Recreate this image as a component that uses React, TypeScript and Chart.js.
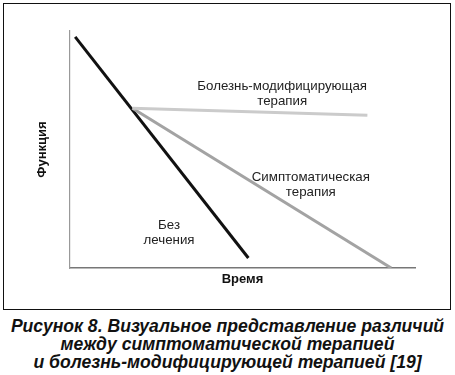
import React, { useEffect, useRef } from "react";
import { Chart, registerables } from "chart.js";

Chart.register(...registerables);

// Data (time on x, function on y, arbitrary 0–100 units)
const noTreatmentX = [1.5, 51.7];
const noTreatmentY = [97.5, 4.2];
const symptomaticX = [18.1, 93.1];
const symptomaticY = [67.4, 0];
const modifyingX = [18.1, 86.2];
const modifyingY = [67.4, 64.4];

const xAxisTitle = "Время";
const yAxisTitle = "Функция";

const annotations = [
  { lines: ["Болезнь-модифицирующая", "терапия"], x: 61.5, y: 76.8 },
  { lines: ["Симптоматическая", "терапия"], x: 69.8, y: 38.3 },
  { lines: ["Без", "лечения"], x: 28.7, y: 18.0 },
];

const captionLines = [
  "Рисунок 8. Визуальное представление различий",
  "между симптоматической терапией",
  "и болезнь-модифицирующей терапией [19]",
];

const toPoints = (xs: number[], ys: number[]) => xs.map((x, i) => ({ x, y: ys[i] }));

const annotationPlugin = {
  id: "annotationText",
  afterDatasetsDraw(chart: any) {
    const { ctx, scales } = chart;
    ctx.save();
    ctx.font = '13.3px "Liberation Sans", Arial, sans-serif';
    ctx.fillStyle = "#222";
    ctx.textAlign = "center";
    ctx.textBaseline = "middle";
    annotations.forEach((a) => {
      const px = scales.x.getPixelForValue(a.x);
      const py = scales.y.getPixelForValue(a.y);
      a.lines.forEach((line, i) => {
        ctx.fillText(line, px, py + i * 15);
      });
    });
    ctx.restore();
  },
};

export default function App() {
  const ref = useRef<HTMLCanvasElement | null>(null);

  useEffect(() => {
    if (!ref.current) return;
    const chart = new Chart(ref.current, {
      type: "line",
      data: {
        datasets: [
          {
            label: "Болезнь-модифицирующая терапия",
            data: toPoints(modifyingX, modifyingY),
            borderColor: "#cbcbcb",
            borderWidth: 3,
            pointRadius: 0,
          },
          {
            label: "Симптоматическая терапия",
            data: toPoints(symptomaticX, symptomaticY),
            borderColor: "#a3a3a3",
            borderWidth: 3,
            pointRadius: 0,
          },
          {
            label: "Без лечения",
            data: toPoints(noTreatmentX, noTreatmentY),
            borderColor: "#111111",
            borderWidth: 3,
            pointRadius: 0,
          },
        ],
      },
      options: {
        animation: false,
        responsive: false,
        maintainAspectRatio: false,
        layout: { padding: { left: 0, top: 27, right: 35, bottom: 0 } },
        plugins: { legend: { display: false }, tooltip: { enabled: false } },
        scales: {
          x: {
            type: "linear",
            min: 0,
            max: 100,
            grid: { display: false },
            border: { display: true, color: "#777", width: 1.5 },
            ticks: { display: false },
            title: {
              display: true,
              text: xAxisTitle,
              color: "#111",
              font: { family: '"Liberation Sans", Arial, sans-serif', size: 13, weight: "bold" },
              padding: { top: 0, bottom: 0 },
            },
            afterFit: (s: any) => {
              s.height = 19;
            },
          },
          y: {
            type: "linear",
            min: 0,
            max: 100,
            grid: { display: false },
            border: { display: true, color: "#999", width: 1.2 },
            ticks: { display: false },
            title: {
              display: true,
              text: yAxisTitle,
              color: "#111",
              font: { family: '"Liberation Sans", Arial, sans-serif', size: 13, weight: "bold" },
              padding: { top: 31, bottom: 0 },
            },
            afterFit: (s: any) => {
              s.width = 66;
            },
          },
        },
      },
      plugins: [annotationPlugin],
    });
    return () => chart.destroy();
  }, []);

  return (
    <div
      style={{
        position: "fixed",
        left: 0,
        top: 0,
        width: 455,
        height: 375,
        background: "#fff",
      }}
    >
      <div
        style={{
          position: "absolute",
          left: 3,
          top: 3,
          width: 446,
          height: 305,
          border: "1.5px solid #111",
        }}
      >
        <canvas ref={ref} width={446} height={283} style={{ display: "block", width: 446, height: 283 }} />
      </div>
      <div
        style={{
          position: "absolute",
          left: 0,
          top: 317,
          width: 455,
          textAlign: "center",
          fontFamily: '"Liberation Sans", Arial, sans-serif',
          fontWeight: "bold",
          fontStyle: "italic",
          fontSize: 17.6,
          lineHeight: "18px",
          color: "#111",
        }}
      >
        {captionLines.map((l, i) => (
          <div key={i}>{l}</div>
        ))}
      </div>
    </div>
  );
}
